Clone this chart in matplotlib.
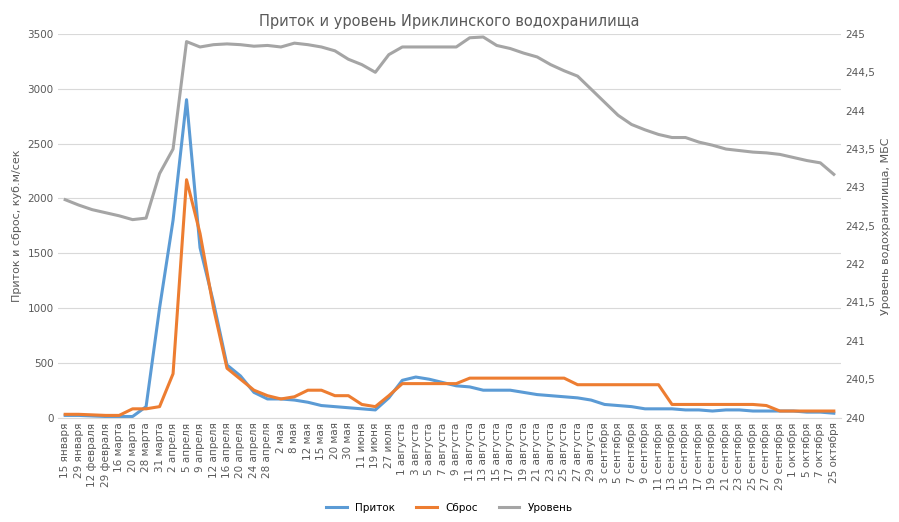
import matplotlib.pyplot as plt
from matplotlib.ticker import FuncFormatter
import numpy as np

labels = ['15 января', '29 января', '12 февраля', '29 февраля', '16 марта', '20 марта',
          '28 марта', '31 марта', '2 апреля', '5 апреля', '9 апреля', '12 апреля',
          '16 апреля', '20 апреля', '24 апреля', '28 апреля', '2 мая', '8 мая', '12 мая',
          '15 мая', '20 мая', '30 мая', '11 июня', '19 июня', '27 июля', '1 августа',
          '3 августа', '5 августа', '7 августа', '9 августа', '11 августа', '13 августа',
          '15 августа', '17 августа', '19 августа', '21 августа', '23 августа', '25 августа',
          '27 августа', '29 августа', '3 сентября', '5 сентября', '7 сентября', '9 сентября',
          '11 сентября', '13 сентября', '15 сентября', '17 сентября', '19 сентября',
          '21 сентября', '23 сентября', '25 сентября', '27 сентября', '29 сентября',
          '1 октября', '5 октября', '7 октября', '25 октября']

inflow = [20, 20, 15, 10, 10, 10, 100, 1000, 1800, 2900, 1550, 1050, 480, 380, 230, 170,
          170, 160, 140, 110, 100, 90, 80, 70, 180, 340, 370, 350, 320, 290, 280, 250,
          250, 250, 230, 210, 200, 190, 180, 160, 120, 110, 100, 80, 80, 80, 70, 70,
          60, 70, 70, 60, 60, 60, 60, 50, 50, 40]

outflow = [30, 30, 25, 20, 20, 80, 80, 100, 400, 2170, 1680, 1000, 450, 350, 250, 200,
           170, 190, 250, 250, 200, 200, 120, 100, 200, 310, 310, 310, 310, 310, 360, 360,
           360, 360, 360, 360, 360, 360, 300, 300, 300, 300, 300, 300, 300, 120, 120, 120,
           120, 120, 120, 120, 110, 60, 60, 60, 60, 60]

level = [242.84, 242.77, 242.71, 242.67, 242.63, 242.58, 242.6, 243.18, 243.5, 244.9,
         244.83, 244.86, 244.87, 244.86, 244.84, 244.85, 244.83, 244.88, 244.86, 244.83,
         244.78, 244.67, 244.6, 244.5, 244.73, 244.83, 244.83, 244.83, 244.83, 244.83,
         244.95, 244.96, 244.85, 244.81, 244.75, 244.7, 244.6, 244.52, 244.45, 244.28,
         244.11, 243.94, 243.82, 243.75, 243.69, 243.65, 243.65, 243.59, 243.55, 243.5,
         243.48, 243.46, 243.45, 243.43, 243.39, 243.35, 243.32, 243.17]

x = np.arange(len(labels))

fig, ax = plt.subplots(figsize=(8.99, 5.22), dpi=100)
fig.subplots_adjust(left=0.065, right=0.935, top=0.935, bottom=0.2)
ax2 = ax.twinx()

l1, = ax.plot(x, inflow, color='#5b9bd5', lw=2.2, label='Приток')
l2, = ax.plot(x, outflow, color='#ed7d31', lw=2.2, label='Сброс')
l3, = ax2.plot(x, level, color='#a5a5a5', lw=2.2, label='Уровень')

ax.set_ylim(0, 3500)
ax.set_yticks(range(0, 3501, 500))
ax2.set_ylim(240, 245)
ax2.set_yticks(np.arange(240, 245.01, 0.5))
ax2.yaxis.set_major_formatter(FuncFormatter(lambda v, p: f'{v:g}'.replace('.', ',')))
ax.set_xlim(-0.5, len(labels) - 0.5)
ax.set_xticks(x)
ax.set_xticklabels(labels, rotation=90, fontsize=7, color='#595959')
ax.grid(axis='y', color='#d9d9d9', lw=0.8)
ax.set_axisbelow(True)
for a in (ax, ax2):
    for s in a.spines.values():
        s.set_visible(False)
    a.tick_params(length=0, labelsize=7.5, colors='#595959')
ax.spines['bottom'].set_visible(True)
ax.spines['bottom'].set_color('#d9d9d9')

ax.set_ylabel('Приток и сброс, куб.м/сек', fontsize=8, color='#595959')
ax2.set_ylabel('Уровень водохранилища, МБС', fontsize=8, color='#595959')
ax.set_title('Приток и уровень Ириклинского водохранилища', fontsize=10.5, color='#595959')
fig.legend(handles=[l1, l2, l3], loc='lower center', ncol=3, frameon=False,
           fontsize=7.5, bbox_to_anchor=(0.5, 0.0))

fig.savefig('out.png', dpi=100)
